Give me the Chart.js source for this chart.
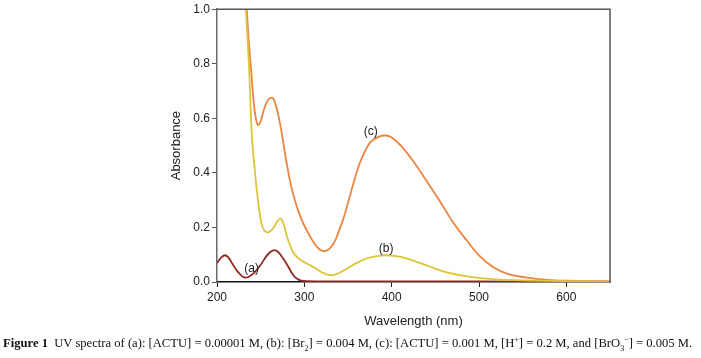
<!DOCTYPE html>
<html>
<head>
<meta charset="utf-8">
<script src="https://cdn.jsdelivr.net/npm/chart.js@4/dist/chart.umd.min.js"></script>
<style>
  html, body { margin: 0; padding: 0; background: #fff; }
  #wrap { position: relative; width: 701px; height: 358px; overflow: hidden; }
  #c { position: absolute; left: 0; top: 0; }
  #cap { position: absolute; left: 3px; top: 336px; white-space: nowrap;
         font-family: "Liberation Serif", "DejaVu Serif", serif; font-size: 12.62px; color: #111; }
  #cap sub, #cap sup { font-size: 8px; line-height: 0; }
</style>
</head>
<body>
<div id="wrap">
  <canvas id="c" width="701" height="358"></canvas>
  <div id="cap"><b>Figure 1</b>&nbsp; UV spectra of (a): [ACTU] = 0.00001 M, (b): [Br<sub>2</sub>] = 0.004 M, (c): [ACTU] = 0.001 M, [H<sup>+</sup>] = 0.2 M, and [BrO<sub>3</sub><sup>−</sup>] = 0.005 M.</div>
</div>
<script>
// ---- data ----
const xTicks = [200, 300, 400, 500, 600];
const yTicks = [0.0, 0.2, 0.4, 0.6, 0.8, 1.0];

const wavelengthA = [200, 205, 209, 213, 218, 222, 226, 230, 233, 237, 243, 251, 256, 261, 266, 270, 275, 280, 285, 289, 294, 299, 320, 400, 500, 650];
const absorbanceA = [0.07, 0.09, 0.098, 0.09, 0.065, 0.045, 0.03, 0.018, 0.016, 0.02, 0.035, 0.068, 0.092, 0.11, 0.117, 0.11, 0.09, 0.065, 0.037, 0.019, 0.008, 0.004, 0.002, 0.002, 0.002, 0.001];

const wavelengthB = [230, 233, 236.5, 240, 243, 246.6, 251, 254, 257.6, 261, 265, 269, 273, 276, 279, 282, 287, 292, 297, 304, 312, 320, 327.5, 335, 346.6, 360, 372, 385, 394, 405, 417, 432, 445, 460, 478, 500, 523, 560, 600, 650];
const absorbanceB = [1.15, 1.0, 0.8, 0.53, 0.42, 0.309, 0.213, 0.19, 0.182, 0.186, 0.2, 0.222, 0.232, 0.215, 0.18, 0.148, 0.11, 0.09, 0.078, 0.066, 0.052, 0.036, 0.026, 0.027, 0.045, 0.07, 0.087, 0.096, 0.098, 0.095, 0.087, 0.07, 0.055, 0.038, 0.025, 0.015, 0.009, 0.005, 0.003, 0.002];

const wavelengthC = [230, 234, 236, 239, 242, 244.5, 247, 250, 254, 258, 261, 264, 267, 271, 275, 279, 283, 287, 292, 297, 303, 312, 318, 322, 326, 330, 335, 340, 345, 350, 357, 364, 375, 385, 393, 400, 410, 425, 440, 455, 470, 486, 500, 516, 532, 555, 578, 600, 650];
const absorbanceC = [1.12, 1.0, 0.9, 0.78, 0.66, 0.6, 0.575, 0.59, 0.635, 0.665, 0.674, 0.674, 0.652, 0.6, 0.53, 0.45, 0.38, 0.325, 0.27, 0.228, 0.188, 0.138, 0.118, 0.113, 0.116, 0.126, 0.15, 0.19, 0.235, 0.29, 0.37, 0.44, 0.51, 0.532, 0.537, 0.53, 0.502, 0.442, 0.37, 0.297, 0.22, 0.152, 0.098, 0.055, 0.031, 0.016, 0.008, 0.005, 0.003];

const curveLabels = ["(a)", "(b)", "(c)"];
const labelWavelengths = [239.6, 393.6, 376];
const labelAbsorbances = [0.05, 0.123, 0.55];

const toPts = (xs, ys) => xs.map((x, i) => ({x: x, y: ys[i]}));

const boxPlugin = {
  id: 'box',
  afterDatasetsDraw(chart) {
    const {ctx, chartArea: a, scales} = chart;
    ctx.save();
    ctx.strokeStyle = '#555';
    ctx.lineWidth = 1.5;
    ctx.beginPath();
    ctx.moveTo(a.left, a.top);
    ctx.lineTo(a.right, a.top);
    ctx.lineTo(a.right, a.bottom);
    ctx.stroke();
    ctx.fillStyle = '#222';
    ctx.font = '12px "Liberation Sans", Arial, sans-serif';
    ctx.textAlign = 'center';
    ctx.textBaseline = 'middle';
    curveLabels.forEach((t, i) => {
      ctx.fillText(t, scales.x.getPixelForValue(labelWavelengths[i]), scales.y.getPixelForValue(labelAbsorbances[i]));
    });
    ctx.restore();
  }
};

const tickFont = {family: '"Liberation Sans", Arial, sans-serif', size: 12};
const titleFont = {family: '"Liberation Sans", Arial, sans-serif', size: 13};

new Chart(document.getElementById('c'), {
  type: 'line',
  data: {
    datasets: [
      {label: '(a)', data: toPts(wavelengthA, absorbanceA), borderColor: '#8e2b22', order: 2},
      {label: '(c)', data: toPts(wavelengthC, absorbanceC), borderColor: '#ea8540', order: 1},
      {label: '(b)', data: toPts(wavelengthB, absorbanceB), borderColor: '#dcc536', order: 0}
    ]
  },
  options: {
    responsive: false,
    animation: false,
    devicePixelRatio: 1,
    layout: {padding: {left: 0, right: 91, top: 6, bottom: 0}},
    elements: {
      point: {radius: 0},
      line: {borderWidth: 1.8, tension: 0.35, fill: false}
    },
    plugins: {legend: {display: false}, tooltip: {enabled: false}},
    scales: {
      x: {
        type: 'linear', min: 200, max: 650,
        afterBuildTicks: s => { s.ticks = xTicks.map(v => ({value: v})); },
        afterFit: s => { s.height = 76; },
        grid: {display: true, drawOnChartArea: false, drawTicks: true, tickLength: 5, color: '#222'},
        border: {display: true, color: '#111', width: 1.5},
        ticks: {font: tickFont, color: '#222', padding: 3, maxRotation: 0},
        title: {display: true, text: 'Wavelength (nm)', font: titleFont, color: '#222', padding: {top: 0, bottom: 29}}
      },
      y: {
        type: 'linear', min: 0, max: 1.0,
        afterBuildTicks: s => { s.ticks = yTicks.map(v => ({value: v})); },
        afterFit: s => { s.width = 217; },
        grid: {display: true, drawOnChartArea: false, drawTicks: true, tickLength: 5, color: '#555'},
        border: {display: true, color: '#6a6a6a', width: 1.5},
        ticks: {font: tickFont, color: '#222', padding: 2, callback: v => v.toFixed(1)},
        title: {display: true, text: 'Absorbance', font: titleFont, color: '#222', padding: {top: 169, bottom: 0}}
      }
    }
  },
  plugins: [boxPlugin]
});
</script>
</body>
</html>
